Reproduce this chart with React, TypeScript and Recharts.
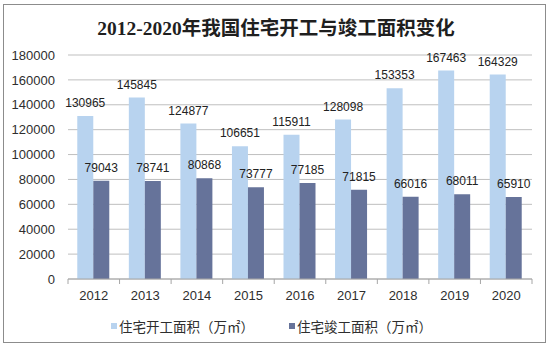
import React from 'react';
import { BarChart, Bar, XAxis, YAxis, CartesianGrid, Legend, LabelList } from 'recharts';

const years = ['2012', '2013', '2014', '2015', '2016', '2017', '2018', '2019', '2020'];
const startedArea = [130965, 145845, 124877, 106651, 115911, 128098, 153353, 167463, 164329];
const completedArea = [79043, 78741, 80868, 73777, 77185, 71815, 66016, 68011, 65910];
const yTicks = [0, 20000, 40000, 60000, 80000, 100000, 120000, 140000, 160000, 180000];
const seriesNames = ['住宅开工面积（万㎡）', '住宅竣工面积（万㎡）'];
const titleText = '2012-2020年我国住宅开工与竣工面积变化';

const data = years.map((y, i) => ({ year: y, started: startedArea[i], completed: completedArea[i] }));

const W = 550;
const H = 346;
const LEFT = 68;
const RIGHT = 18;
const BAND = (W - LEFT - RIGHT) / years.length;
const LIGHT = '#B8D3EF';
const DARK = '#66739A';
const FONT = "'Liberation Sans', Arial, sans-serif";
const TICK_COLOR = '#2E2E2E';

const XTick = (props: any) => {
  const { x, y, payload, index } = props;
  const axisY = y - 12;
  const isLast = index === years.length - 1;
  return (
    <g>
      <line x1={x - BAND / 2} x2={x - BAND / 2} y1={axisY} y2={axisY + 5} stroke="#A6A6A6" />
      {isLast && <line x1={x + BAND / 2} x2={x + BAND / 2} y1={axisY} y2={axisY + 5} stroke="#A6A6A6" />}
      <text x={x} y={y} dy="0.71em" textAnchor="middle" fontSize={13} fill={TICK_COLOR} fontFamily={FONT}>
        {payload.value}
      </text>
    </g>
  );
};

const LegendContent = () => {
  const items = [
    { name: seriesNames[0], color: LIGHT, left: 111 },
    { name: seriesNames[1], color: DARK, left: 289 },
  ];
  return (
    <div style={{ position: 'relative', width: W, height: 37 }}>
      {items.map((it) => (
        <div
          key={it.name}
          style={{
            position: 'absolute',
            left: it.left,
            top: 8,
            height: 18,
            display: 'flex',
            alignItems: 'center',
            fontFamily: "'Noto Sans CJK SC', sans-serif",
            fontSize: 13.5,
            color: '#2E2E2E',
            whiteSpace: 'nowrap',
          }}
        >
          <span style={{ display: 'inline-block', width: 6, height: 6, background: it.color, marginRight: 2 }} />
          <span>{it.name}</span>
        </div>
      ))}
    </div>
  );
};

export default function App() {
  return (
    <div style={{ position: 'absolute', left: 0, top: 0, width: W, height: H, background: '#fff' }}>
      <div
        style={{
          position: 'absolute',
          left: 3,
          top: 4,
          width: 543,
          height: 339,
          border: '1px solid #8C8C8C',
          boxSizing: 'border-box',
          pointerEvents: 'none',
        }}
      />
      <div
        style={{
          position: 'absolute',
          left: 1,
          top: 18,
          width: W,
          textAlign: 'center',
          fontFamily: "'Liberation Serif', 'Noto Sans CJK SC', serif",
          fontWeight: 'bold',
          fontSize: 19.5,
          lineHeight: '21px',
          color: '#1F1F1F',
          whiteSpace: 'nowrap',
        }}
      >
        {titleText}
      </div>
      <BarChart
        width={W}
        height={H}
        data={data}
        margin={{ top: 55, right: RIGHT, left: 0, bottom: 0 }}
        barCategoryGap="18%"
        barGap={0}
        style={{ fontFamily: FONT }}
      >
        <CartesianGrid vertical={false} stroke="#BFBFBF" />
        <XAxis
          dataKey="year"
          height={30}
          axisLine={{ stroke: '#A6A6A6' }}
          tickLine={false}
          tickSize={5}
          tickMargin={7}
          tick={<XTick />}
          interval={0}
        />
        <YAxis
          width={LEFT}
          domain={[0, 180000]}
          ticks={yTicks}
          axisLine={false}
          tickLine={false}
          tickSize={0}
          tickMargin={13}
          tick={{ fontSize: 13, fill: TICK_COLOR, fontFamily: FONT }}
          interval={0}
        />
        <Legend verticalAlign="bottom" height={37} content={<LegendContent />} wrapperStyle={{ left: 0, width: W }} />
        <Bar dataKey="started" name={seriesNames[0]} fill={LIGHT} isAnimationActive={false}>
          <LabelList dataKey="started" position="top" offset={9} fill="#222" fontSize={12} fontFamily={FONT} />
        </Bar>
        <Bar dataKey="completed" name={seriesNames[1]} fill={DARK} isAnimationActive={false}>
          <LabelList dataKey="completed" position="top" offset={9} fill="#222" fontSize={12} fontFamily={FONT} />
        </Bar>
      </BarChart>
    </div>
  );
}
